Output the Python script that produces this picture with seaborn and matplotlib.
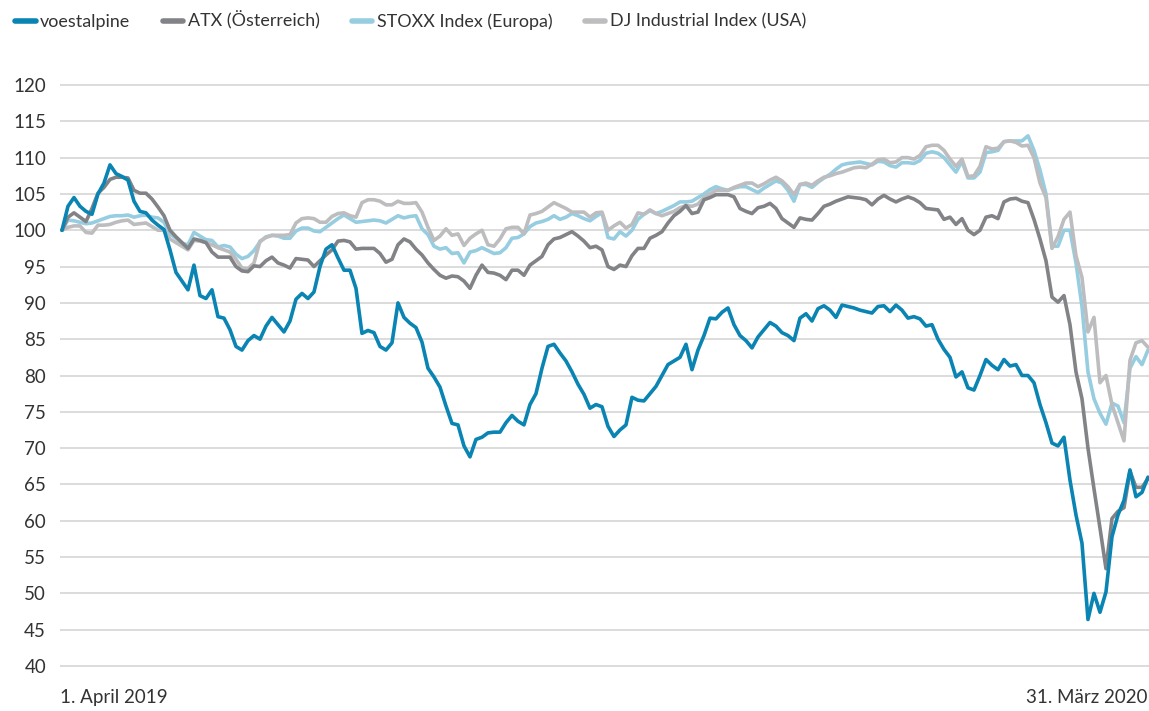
import numpy as np
import pandas as pd
import matplotlib
matplotlib.use("Agg")
import matplotlib.pyplot as plt
import seaborn as sns

# ---- data (index values, start = 100), sampled every ~1.4 trading days ----
voestalpine = [
    100, 103.3, 104.5, 103.3, 102.6, 102.2, 105.0, 106.5, 109.0, 107.8,
    107.4, 106.9, 104.0, 102.6, 102.4, 101.4, 100.7, 100.1, 97.3, 94.2,
    93.0, 91.8, 95.2, 91.0, 90.6, 91.8, 88.1, 87.9, 86.3, 84.0,
    83.5, 84.8, 85.5, 85.0, 86.8, 88.0, 87.0, 86.0, 87.5, 90.5,
    91.3, 90.6, 91.5, 95.0, 97.4, 98.0, 96.2, 94.5, 94.5, 92.0,
    85.8, 86.2, 85.9, 84.0, 83.5, 84.5, 90.0, 88.0, 87.2, 86.6,
    84.6, 81.0, 79.8, 78.4, 75.8, 73.4, 73.2, 70.3, 68.8, 71.2,
    71.5, 72.1, 72.2, 72.2, 73.5, 74.5, 73.7, 73.2, 76.0, 77.5,
    81.0, 84.0, 84.3, 83.1, 82.0, 80.5, 78.8, 77.4, 75.5, 76.0,
    75.7, 73.0, 71.6, 72.5, 73.2, 77.0, 76.6, 76.5, 77.5, 78.5,
    80.0, 81.5, 82.0, 82.5, 84.3, 80.8, 83.5, 85.5, 87.9, 87.8,
    88.7, 89.3, 87.0, 85.5, 84.8, 83.8, 85.3, 86.3, 87.3, 86.8,
    85.9, 85.5, 84.8, 87.9, 88.5, 87.5, 89.2, 89.6, 89.0, 88.0,
    89.7, 89.5, 89.3, 89.0, 88.8, 88.6, 89.5, 89.6, 88.8, 89.7,
    89.0, 87.9, 88.1, 87.8, 86.8, 87.0, 85.0, 83.6, 82.5, 79.8,
    80.5, 78.3, 78.0, 80.0, 82.2, 81.4, 80.8, 82.2, 81.3, 81.5,
    80.0, 80.0, 79.0, 76.0, 73.5, 70.7, 70.3, 71.5, 65.6, 60.8,
    56.9, 46.4, 50.0, 47.4, 50.2, 57.8, 60.8, 62.8, 67.0, 63.3,
    63.9, 66.0,
]

atx = [
    100, 101.8, 102.4, 101.8, 101.2, 103.0, 105.1, 105.9, 107.0, 107.3,
    107.3, 107.2, 105.5, 105.1, 105.1, 104.3, 103.2, 102.0, 100.0, 99.1,
    98.3, 97.5, 98.8, 98.6, 98.3, 97.0, 96.3, 96.3, 96.3, 95.0,
    94.4, 94.3, 95.1, 95.0, 95.8, 96.3, 95.5, 95.2, 94.8, 96.1,
    96.0, 95.9, 95.0, 95.8, 96.6, 97.3, 98.5, 98.6, 98.4, 97.4,
    97.5, 97.5, 97.5, 96.8, 95.6, 96.0, 98.0, 98.8, 98.4, 97.4,
    96.6, 95.5, 94.6, 93.8, 93.4, 93.7, 93.6, 93.0, 92.0, 93.8,
    95.2, 94.2, 94.1, 93.8, 93.2, 94.5, 94.5, 93.8, 95.2, 95.8,
    96.4, 98.0, 98.8, 99.0, 99.4, 99.8, 99.2, 98.5, 97.6, 97.8,
    97.3, 95.0, 94.6, 95.2, 95.0, 96.5, 97.5, 97.5, 98.9, 99.3,
    99.8, 101.0, 102.0, 102.6, 103.4, 102.3, 102.5, 104.2, 104.5, 104.9,
    104.9, 104.9, 104.6, 103.0, 102.6, 102.3, 103.1, 103.3, 103.7, 103.0,
    101.6, 101.0, 100.4, 101.7, 101.5, 101.4, 102.3, 103.3, 103.6, 104.0,
    104.3, 104.6, 104.5, 104.4, 104.2, 103.5, 104.3, 104.8, 104.3, 103.9,
    104.3, 104.6, 104.3, 103.8, 103.0, 102.9, 102.8, 101.5, 101.8, 100.8,
    101.6, 100.0, 99.4, 100.0, 101.8, 102.0, 101.6, 103.9, 104.3, 104.4,
    104.0, 103.8, 101.5, 98.8, 95.8, 90.8, 90.1, 91.0, 87.0, 80.5,
    76.8, 70.0, 64.4, 59.0, 53.4, 60.3, 61.3, 61.8, 66.8, 64.6,
    64.6, 65.8,
]

stoxx = [
    100, 101.4, 101.3, 101.1, 100.9, 101.0, 101.3, 101.6, 101.9, 102.0,
    102.0, 102.1, 101.8, 102.0, 102.1, 101.8, 101.7, 101.1, 99.5, 98.9,
    98.2, 98.0, 99.7, 99.2, 98.7, 98.6, 97.7, 97.9, 97.7, 96.7,
    96.1, 96.4, 97.2, 98.4, 99.1, 99.3, 99.2, 98.9, 98.9, 99.9,
    100.3, 100.3, 99.9, 99.8, 100.4, 101.0, 101.6, 102.1, 101.6, 101.1,
    101.2, 101.3, 101.4, 101.3, 101.0, 101.5, 102.0, 101.7, 101.9, 102.0,
    100.2, 99.4, 97.8, 97.4, 97.6, 96.8, 96.9, 95.5, 97.0, 97.2,
    97.6, 97.2, 96.8, 96.9, 97.6, 98.9, 99.0, 99.5, 100.5, 101.0,
    101.2, 101.5, 102.0, 101.5, 101.8, 102.3, 102.0, 101.6, 101.3, 101.9,
    102.4, 99.0, 98.8, 99.8, 99.2, 100.0, 101.5, 102.2, 102.7, 102.3,
    102.6, 103.0, 103.4, 103.9, 103.9, 104.0, 104.5, 105.0, 105.6, 106.0,
    105.7, 105.5, 105.8, 106.0, 106.0, 105.6, 105.2, 105.8, 106.3, 106.8,
    106.5, 105.5, 104.0, 106.3, 106.3, 105.9, 106.6, 107.2, 107.7, 108.4,
    109.0, 109.2, 109.3, 109.4, 109.2, 109.0, 109.5, 109.4, 108.9, 108.7,
    109.3, 109.3, 109.2, 109.6, 110.6, 110.8, 110.6, 110.0, 109.0, 108.0,
    109.5, 107.2, 107.2, 108.0, 110.7, 110.8, 111.0, 112.2, 112.3, 112.3,
    112.3, 113.0, 111.0, 108.3, 105.0, 97.8, 97.8, 100.0, 100.0, 95.5,
    89.5, 80.5, 76.8, 74.8, 73.3, 76.2, 75.8, 73.5, 81.0, 82.6,
    81.5, 83.5,
]

dj_industrial = [
    100, 100.4, 100.6, 100.6, 99.7, 99.6, 100.7, 100.7, 100.8, 101.1,
    101.3, 101.4, 100.8, 100.9, 101.0, 100.5, 100.0, 100.0, 98.8, 98.3,
    97.8, 97.3, 98.6, 98.5, 98.3, 98.0, 97.6, 97.3, 97.0, 96.0,
    94.8, 94.7, 95.5, 98.5, 99.0, 99.3, 99.3, 99.3, 99.4, 101.0,
    101.6, 101.7, 101.6, 101.1, 101.1, 101.9, 102.3, 102.4, 102.0, 101.8,
    103.8, 104.2, 104.2, 104.0, 103.5, 103.5, 104.0, 103.7, 103.7, 103.8,
    102.5, 100.4, 98.6, 99.2, 100.2, 99.3, 99.5, 97.9, 98.9, 99.5,
    100.0, 98.0, 97.8, 98.8, 100.2, 100.4, 100.4, 99.5, 102.1, 102.3,
    102.6, 103.2, 103.8, 103.4, 103.0, 102.5, 102.5, 102.5, 101.8, 102.4,
    102.5, 100.0, 100.6, 101.1, 100.3, 100.8, 102.4, 102.2, 102.8, 102.3,
    102.0, 102.3, 102.6, 103.1, 103.4, 103.3, 103.6, 104.5, 105.0, 105.5,
    105.5, 105.5, 105.9, 106.2, 106.5, 106.5, 106.0, 106.4, 106.9, 107.3,
    106.8, 106.0, 104.9, 106.3, 106.5, 106.2, 106.8, 107.3, 107.5, 107.8,
    108.0, 108.3, 108.6, 108.7, 108.6, 109.1, 109.7, 109.8, 109.3, 109.4,
    110.0, 110.0, 109.8, 110.3, 111.5, 111.7, 111.7, 111.0, 109.8, 108.8,
    109.8, 107.4, 107.5, 108.8, 111.5, 111.2, 111.3, 112.2, 112.3, 112.1,
    111.6, 111.7, 110.0, 106.5, 104.5, 97.5, 99.1, 101.5, 102.5, 96.5,
    93.5, 86.0, 88.0, 79.0, 80.0, 76.0, 73.5, 71.0, 82.1, 84.5,
    84.8, 83.9,
]

series_names = ["voestalpine", "ATX (Österreich)", "STOXX Index (Europa)",
                "DJ Industrial Index (USA)"]
x_labels = ["1. April 2019", "31. März 2020"]
y_ticks = list(range(40, 125, 5))

colors = {
    "voestalpine": "#0a84b2",
    "ATX (Österreich)": "#828387",
    "STOXX Index (Europa)": "#97cde0",
    "DJ Industrial Index (USA)": "#bdbdbf",
}

values = {
    "voestalpine": voestalpine,
    "ATX (Österreich)": atx,
    "STOXX Index (Europa)": stoxx,
    "DJ Industrial Index (USA)": dj_industrial,
}

frames = []
for name in series_names:
    v = values[name]
    frames.append(pd.DataFrame({"t": np.arange(len(v)), "value": v, "series": name}))
df = pd.concat(frames, ignore_index=True)

sns.set_theme(style="white")
plt.rcParams["font.family"] = ["Lato", "DejaVu Sans"]

fig = plt.figure(figsize=(11.49, 7.11), dpi=100)
ax = fig.add_axes([60 / 1149, (711 - 666 - 3.63) / 711, 1089 / 1149, (581 + 7.26) / 711])

draw_order = ["STOXX Index (Europa)", "DJ Industrial Index (USA)",
              "ATX (Österreich)", "voestalpine"]
sns.lineplot(data=df, x="t", y="value", hue="series", hue_order=draw_order,
             palette=colors, linewidth=2.6, ax=ax, legend=True)

n = len(voestalpine)
ax.set_xlim(-0.33, (n - 1) + 0.17)
ax.set_ylim(39.5, 120.5)
ax.set_yticks(y_ticks)
ax.set_xticks([])
ax.set_xlabel("")
ax.set_ylabel("")
ax.yaxis.grid(True, color="#d9d9d9", linewidth=1.3)
ax.set_axisbelow(True)
for s in ax.spines.values():
    s.set_visible(False)
ax.tick_params(axis="y", length=0, pad=10, labelsize=13.5, labelcolor="#333333")

handles, labels = ax.get_legend_handles_labels()
hmap = dict(zip(labels, handles))
ax.get_legend().remove()
ordered = [hmap[nm] for nm in series_names]
for h in ordered:
    h.set_linewidth(4)
fig.legend(ordered, series_names, loc="center left", bbox_to_anchor=(-0.001, 0.971),
           ncol=4, frameon=False, fontsize=12.9, handlelength=1.15,
           handletextpad=0.25, columnspacing=1.8, labelcolor="#333333")

fig.text(60 / 1149, 0.019, x_labels[0], ha="left", va="center", fontsize=13.5, color="#333333")
fig.text(0.999, 0.019, x_labels[1], ha="right", va="center", fontsize=13.5, color="#333333")

fig.savefig("out.png", dpi=100)
